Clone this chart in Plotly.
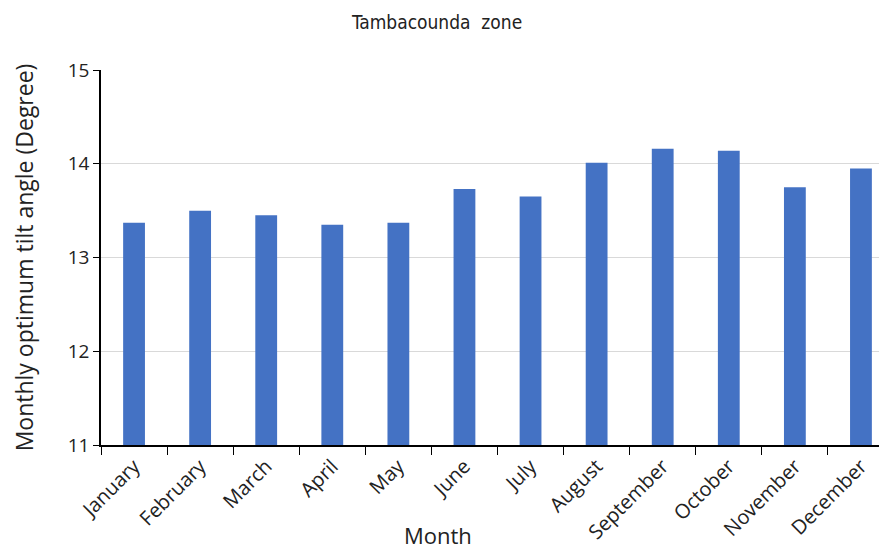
import plotly.graph_objects as go

months = ["January", "February", "March", "April", "May", "June",
          "July", "August", "September", "October", "November", "December"]
tilt = [13.37, 13.50, 13.45, 13.35, 13.37, 13.73,
        13.65, 14.01, 14.16, 14.14, 13.75, 13.95]

fig = go.Figure(go.Bar(x=months, y=tilt, marker=dict(color="#4472C4", line=dict(width=0))))

fig.update_layout(
    width=887, height=550,
    margin=dict(l=93, r=1, t=62, b=113),
    paper_bgcolor="white", plot_bgcolor="white",
    bargap=0.67,
    showlegend=False,
    font=dict(family="Open Sans", color="#222222"),
    title=dict(text="Tambacounda  zone", x=0.4837, xanchor="center", y=0.9745, yanchor="middle",
               font=dict(family="DejaVu Sans Condensed, Liberation Sans Narrow, Roboto", size=19, color="#222")),
)
fig.update_xaxes(
    type="category", range=[-0.5, 11.5], automargin=False,
    showline=True, linecolor="black", linewidth=1.5,
    ticks="outside", ticklen=8, tickcolor="black", tickson="boundaries",
    tickangle=-45, tickfont=dict(size=20),
    showgrid=False,
)
fig.update_yaxes(
    range=[11, 15], dtick=1, automargin=False,
    showline=True, linecolor="black", linewidth=1.5,
    ticks="outside", ticklen=6, tickcolor="black",
    tickfont=dict(size=19),
    gridcolor="#d9d9d9", gridwidth=1.2,
    title=dict(text="Monthly optimum tilt angle (Degree)", font=dict(size=23), standoff=35),
    zeroline=False,
)
fig.add_annotation(text="Month", xref="paper", yref="paper", x=0.425, y=-0.24,
                   xanchor="center", yanchor="middle", showarrow=False,
                   font=dict(size=22, family="Open Sans", color="#222222"))
fig.write_html("out.html")
